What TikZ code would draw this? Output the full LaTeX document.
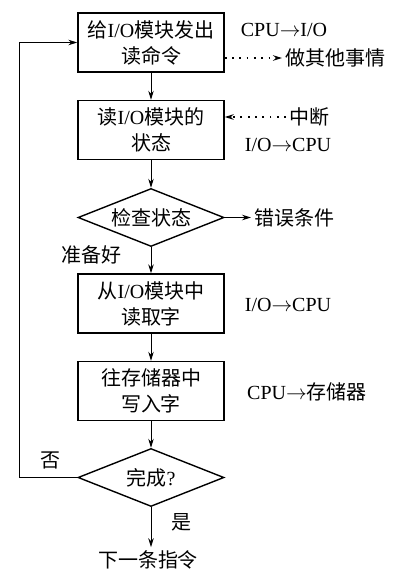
\documentclass[tikz,border=0pt]{standalone}
\usepackage{fontspec}
\setmainfont{Liberation Serif}
\newfontfamily\zhfont{Noto Sans CJK SC}
\newcommand\zh[1]{{\zhfont #1}}
\usetikzlibrary{arrows.meta,shapes.geometric}
\tikzset{
  every node/.style={font=\fontsize{20}{26}\selectfont},
  stepbox/.style={draw,line width=1.4pt,minimum width=146pt,minimum height=59pt,align=center,inner sep=0pt},
  testbox/.style={draw,diamond,line width=1.4pt,minimum width=146pt,minimum height=58pt,inner sep=0pt,aspect=2.5},
  flow/.style={line width=0.9pt,-{Stealth[length=9pt,width=5.5pt]}},
  dotflow/.style={flow,line width=1.8pt,dash pattern=on 1.8pt off 5.5pt}
}

\begin{document}
\begin{tikzpicture}[x=1pt,y=-1pt]
			%%%%% START %%%%%
			\useasboundingbox (0,0) rectangle (400,582);
			
			\node[stepbox] (send) at (151,42.5) {\zh{给}I/O\zh{模块发出}\\\zh{读命令}};
			\node[stepbox] (status) at (151,130) {\zh{读}I/O\zh{模块的}\\\zh{状态}};
			\node[testbox] (check) at (151,217.5) {\zh{检查状态}};
			\node[stepbox] (fetch) at (151,303.5) {\zh{从}I/O\zh{模块中}\\\zh{读取字}};
			\node[stepbox] (store) at (151,391) {\zh{往存储器中}\\\zh{写入字}};
			\node[testbox] (done) at (151,477.5) {\zh{完成}?};
			\node (next) at (148,560) {\zh{下一条指令}};
			
			\node (cpuio) at (284,30) {CPU$\rightarrow$I/O};
			\node[anchor=west] (other) at (282,58) {\zh{做其他事情}};
			\node[anchor=west] (irq) at (286,117) {\zh{中断}};
			\node (iocpu) at (288,145) {I/O$\rightarrow$CPU};
			\node[anchor=west] (err) at (251,217.5) {\zh{错误条件}};
			\node (ready) at (91,255) {\zh{准备好}};
			\node (iocpu2) at (288,305) {I/O$\rightarrow$CPU};
			\node (cpumem) at (307,392) {CPU$\rightarrow$\zh{存储器}};
			\node (no) at (50,460) {\zh{否}};
			\node (yes) at (181,522) {\zh{是}};
			
			\draw[flow] (send) -- (status);
			\draw[flow] (status) -- (check);
			\draw[flow] (check) -- (fetch);
			\draw[flow] (fetch) -- (store);
			\draw[flow] (store) -- (done);
			\draw[flow] (done.south) -- (done.south |- next.north);
			\draw[flow] (check.east) -- (err.west);
			\draw[flow] (done.west) -- ++(-58,0) |- (send.west);
			
			\draw[dotflow] (send.east |- other) -- (other);
			\draw[dotflow] (irq) -- (status.east |- irq);
			
			%%%%% END %%%%%
\end{tikzpicture}
\end{document}
